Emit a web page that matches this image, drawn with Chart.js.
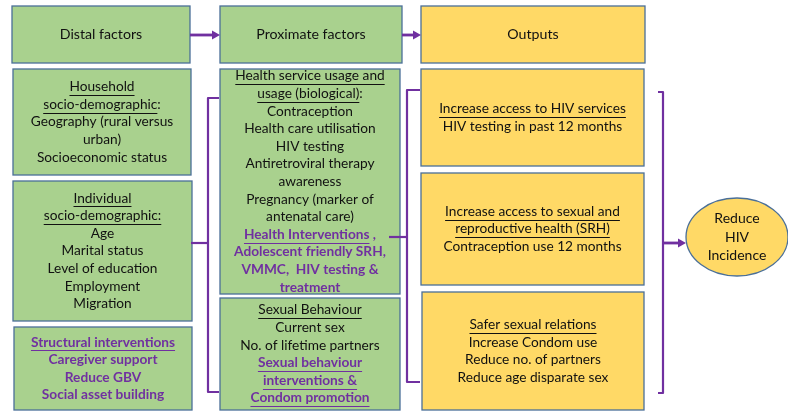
<!DOCTYPE html>
<html>
<head>
<meta charset="utf-8">
<script src="https://cdn.jsdelivr.net/npm/chart.js@4/dist/chart.umd.min.js"></script>
<style>
  html, body { margin: 0; padding: 0; background: #fff; }
  #wrap { width: 788px; height: 411px; }
</style>
</head>
<body>
<div id="wrap"><canvas id="diagram" width="788" height="411"></canvas></div>
<script>
// --- content of the framework ---
const stageLabels = ["Distal factors", "Proximate factors", "Outputs"];
const householdLines = ["Household", "socio-demographic:", "Geography (rural versus", "urban)", "Socioeconomic status"];
const individualLines = ["Individual", "socio-demographic:", "Age", "Marital status", "Level of education", "Employment", "Migration"];
const structuralLines = ["Structural interventions", "Caregiver support", "Reduce GBV", "Social asset building"];
const healthLines = [
  "Health service usage and", "usage (biological):", "Contraception", "Health care utilisation",
  "HIV testing", "Antiretroviral therapy", "awareness", "Pregnancy (marker of", "antenatal care)",
  "Health Interventions ,", "Adolescent friendly SRH,", "VMMC,  HIV testing &", "treatment"
];
const sexualLines = ["Sexual Behaviour", "Current sex", "No. of lifetime partners", "Sexual behaviour", "interventions &", "Condom promotion"];
const hivServiceLines = ["Increase access to HIV services", "HIV testing in past 12 months"];
const srhLines = ["Increase access to sexual and", "reproductive health (SRH)", "Contraception use 12 months"];
const saferSexLines = ["Safer sexual relations", "Increase Condom use", "Reduce no. of partners", "Reduce age disparate sex"];
const goalLines = ["Reduce", "HIV", "Incidence"];

// --- look ---
const GREEN = "#a9d18e";
const YELLOW = "#ffd966";
const EDGE = "#4a6f98";
const PURPLE = "#7030a0";
const INK = "#111";
const FONT = "Lato, 'Open Sans', sans-serif";

// layout: [x, y, w, h] in diagram units (same as pixels of the 788x411 page)
const layout = [
  { box: [12, 6, 178, 57], fill: GREEN, lines: [stageLabels[0]], size: 14.2 },
  { box: [220, 6, 182, 57], fill: GREEN, lines: [stageLabels[1]], size: 14.2 },
  { box: [421, 6, 224, 57], fill: YELLOW, lines: [stageLabels[2]], size: 14.2 },
  { box: [13, 69, 178, 106], fill: GREEN, lines: householdLines, under: [0, 1] },
  { box: [13, 181, 179, 140], fill: GREEN, lines: individualLines, under: [0, 1], fullUnder: [1] },
  { box: [14, 327, 178, 83], fill: GREEN, lines: structuralLines, under: [0], bold: [0, 1, 2, 3] },
  { box: [220, 69, 180, 225], fill: GREEN, lines: healthLines, under: [0, 1, 9], bold: [9, 10, 11, 12] },
  { box: [220, 298, 180, 112], fill: GREEN, lines: sexualLines, under: [0, 3, 4, 5], bold: [3, 4, 5] },
  { box: [421, 69, 223, 97], fill: YELLOW, lines: hivServiceLines, under: [0] },
  { box: [421, 173, 223, 112], fill: YELLOW, lines: srhLines, under: [0, 1] },
  { box: [422, 292, 222, 118], fill: YELLOW, lines: saferSexLines, under: [0] }
];
const goal = { cx: 737, cy: 237, rx: 51, ry: 39, lines: goalLines };

const diagramPlugin = {
  id: "diagram",
  beforeDraw(chart) {
    const ctx = chart.ctx;
    ctx.save();
    ctx.fillStyle = "#fff";
    ctx.fillRect(0, 0, chart.width, chart.height);
    ctx.restore();
  },
  afterDraw(chart) {
    const ctx = chart.ctx;
    const X = v => chart.scales.x.getPixelForValue(v);
    const Y = v => chart.scales.y.getPixelForValue(v);

    function textBlock(lines, cx, cy, spec) {
      const lh = spec.lh || 17.6;
      const size = spec.size || 13.7;
      const top = cy - (lines.length - 1) * lh / 2;
      lines.forEach((t, i) => {
        const bold = (spec.bold || []).includes(i);
        ctx.font = (bold ? "bold " : "") + size + "px " + FONT;
        ctx.fillStyle = bold ? PURPLE : INK;
        ctx.textAlign = "center";
        ctx.textBaseline = "middle";
        const y = top + i * lh;
        ctx.fillText(t, cx, y);
        if ((spec.under || []).includes(i)) {
          const w = ctx.measureText(t).width;
          let part = t;
          if (!(spec.fullUnder || []).includes(i)) part = t.replace(/[\s,:]+$/, "");
          const uw = ctx.measureText(part).width;
          const x0 = cx - w / 2;
          const uy = Math.round(y + size * 0.6) + 0.5;
          ctx.strokeStyle = ctx.fillStyle;
          ctx.lineWidth = 1;
          ctx.beginPath();
          ctx.moveTo(x0, uy);
          ctx.lineTo(x0 + uw, uy);
          ctx.stroke();
        }
      });
    }

    // boxes
    layout.forEach(b => {
      const [x, y, w, h] = b.box;
      const px = X(x), py = Y(y), pw = X(x + w) - px, ph = Y(y + h) - py;
      ctx.fillStyle = b.fill;
      ctx.fillRect(px, py, pw, ph);
      ctx.strokeStyle = EDGE;
      ctx.lineWidth = 1.3;
      ctx.strokeRect(px, py, pw, ph);
      textBlock(b.lines, px + pw / 2, py + ph / 2, b);
    });

    // goal ellipse
    ctx.beginPath();
    ctx.ellipse(X(goal.cx), Y(goal.cy), goal.rx, goal.ry, 0, 0, Math.PI * 2);
    ctx.fillStyle = YELLOW;
    ctx.fill();
    ctx.strokeStyle = EDGE;
    ctx.lineWidth = 1.3;
    ctx.stroke();
    textBlock(goal.lines, X(goal.cx), Y(goal.cy), { lh: 18.5, size: 14 });

    // arrows and brackets
    ctx.strokeStyle = PURPLE;
    ctx.fillStyle = PURPLE;
    ctx.lineCap = "butt";
    ctx.lineJoin = "round";

    function arrow(x1, y, x2) {
      ctx.lineWidth = 2.8;
      ctx.beginPath();
      ctx.moveTo(X(x1), Y(y));
      ctx.lineTo(X(x2) - 6, Y(y));
      ctx.stroke();
      ctx.beginPath();
      ctx.moveTo(X(x2), Y(y));
      ctx.lineTo(X(x2) - 8, Y(y) - 4.5);
      ctx.lineTo(X(x2) - 8, Y(y) + 4.5);
      ctx.closePath();
      ctx.fill();
    }
    function bracket(x, y1, y2, tipX, ym, midX) {
      ctx.lineWidth = 2.2;
      ctx.beginPath();
      ctx.moveTo(X(tipX), Y(y1));
      ctx.lineTo(X(x), Y(y1));
      ctx.lineTo(X(x), Y(y2));
      ctx.lineTo(X(tipX), Y(y2));
      ctx.stroke();
      if (midX !== null) {
        ctx.beginPath();
        ctx.moveTo(X(x), Y(ym));
        ctx.lineTo(X(midX), Y(ym));
        ctx.stroke();
      }
    }
    arrow(190, 35, 220);
    arrow(402, 35, 421);
    bracket(208, 98, 392, 219, 243, 191);
    bracket(407, 90, 382, 420, 237, 389);
    bracket(663, 92, 393, 658, 243, null);
    arrow(663, 243, 686);
  }
};

new Chart(document.getElementById("diagram"), {
  type: "scatter",
  data: { datasets: [{ data: [] }] },
  options: {
    responsive: false,
    animation: false,
    devicePixelRatio: 1,
    layout: { padding: 0 },
    plugins: { legend: { display: false }, tooltip: { enabled: false } },
    scales: {
      x: { type: "linear", min: 0, max: 788, display: false },
      y: { type: "linear", min: 0, max: 411, reverse: true, display: false }
    }
  },
  plugins: [diagramPlugin]
});
</script>
</body>
</html>
